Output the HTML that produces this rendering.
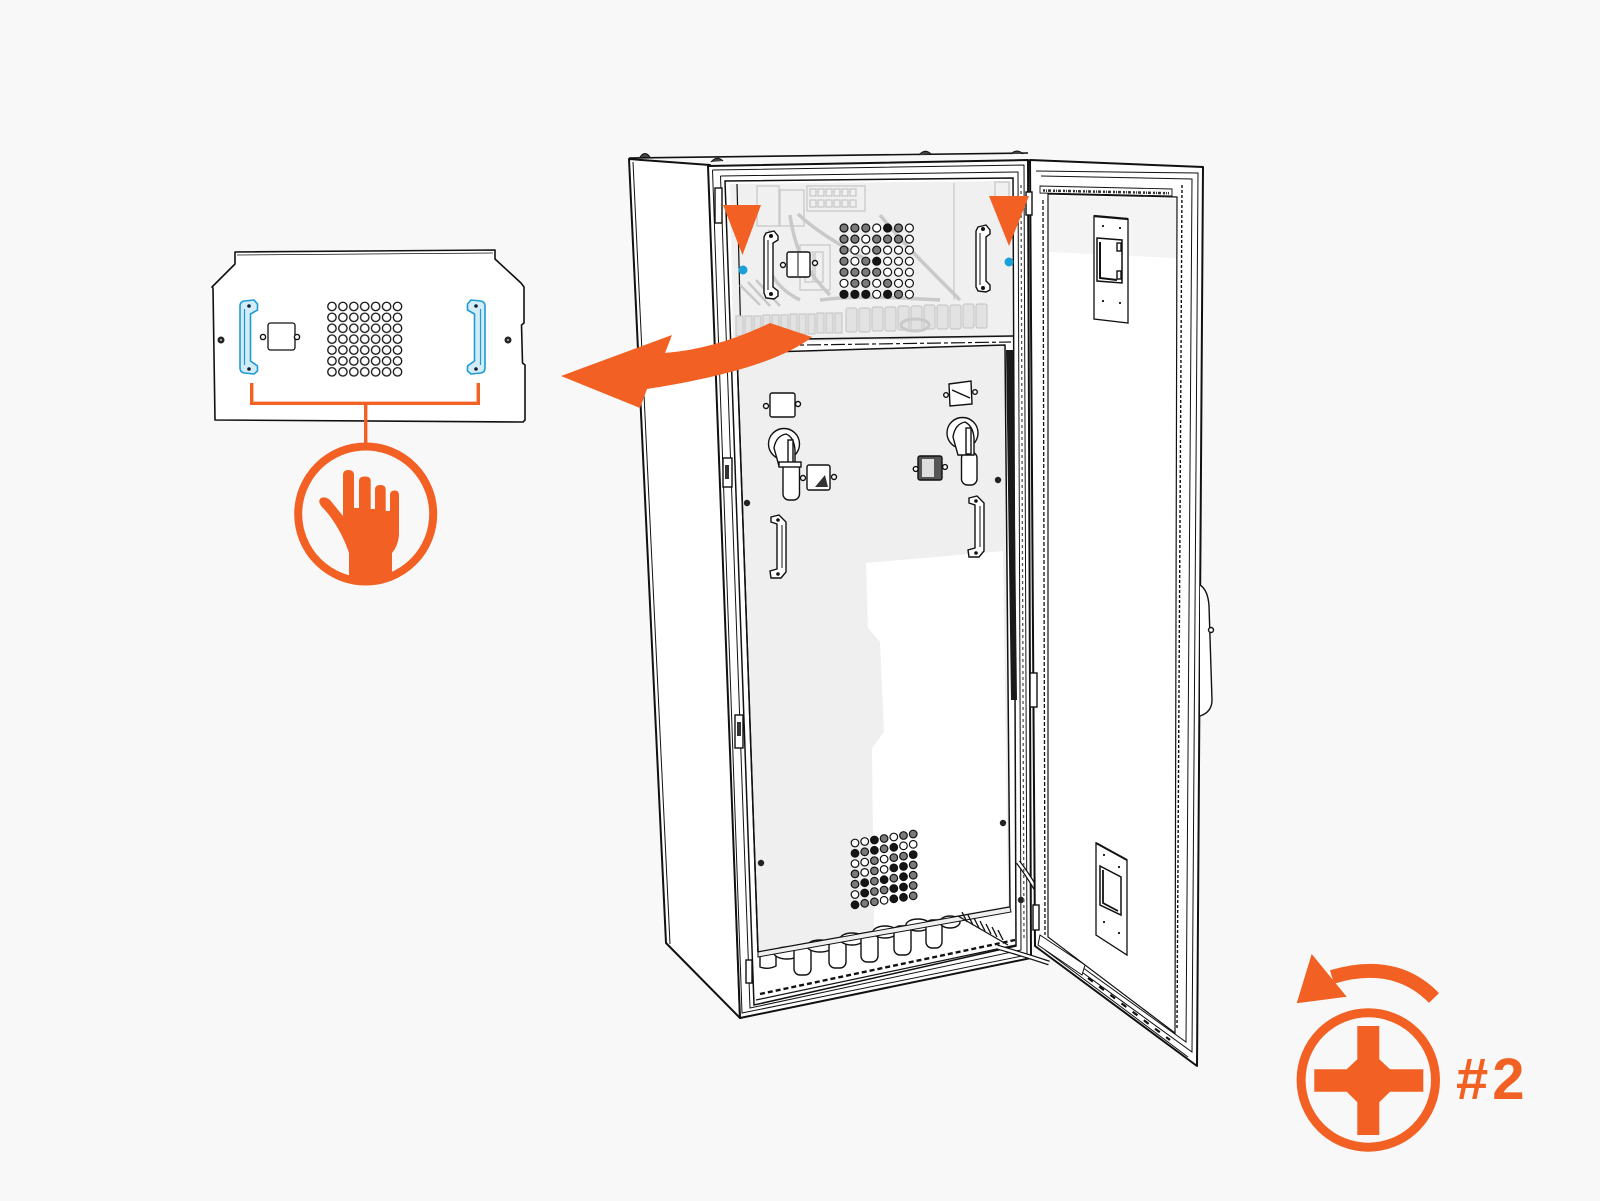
<!DOCTYPE html>
<html><head><meta charset="utf-8"><style>
html,body{margin:0;padding:0;background:#f8f8f8;}
svg{display:block}
.o{fill:#fff;stroke:#111;stroke-width:1.2}
.b{fill:#151515;stroke:#111;stroke-width:1.2}
.h{fill:#7a7a7a;stroke:#111;stroke-width:1.2}
.g{fill:none;stroke:#c9c9c9;stroke-width:1.3}
.gf{fill:#e2e2e2;stroke:#c9c9c9;stroke-width:1.2}
.k{fill:none;stroke:#111;stroke-width:1.4}
.kw{fill:#fff;stroke:#111;stroke-width:1.4}
</style></head><body>
<svg width="1600" height="1201" viewBox="0 0 1600 1201" xmlns="http://www.w3.org/2000/svg">
<rect width="1600" height="1201" fill="#f8f8f8"/>

<!-- ================= CABINET ================= -->
<polygon points="629,159 710,165 740,1018 666,943" fill="#fff" stroke="#111" stroke-width="2" stroke-linejoin="round"/>
<line x1="633" y1="162" x2="670" y2="944" stroke="#111" stroke-width="1"/>
<line x1="629" y1="158" x2="1028" y2="153" stroke="#111" stroke-width="1.6"/>
<path d="M640,157 Q645,150 650,157 M711,162 Q717,155 723,161 M919,155 Q925,148 931,154 M1011,154 Q1017,148 1023,154" fill="#444" stroke="#111" stroke-width="1"/>
<polygon points="708,166 1028,160 1031,958 740,1018" fill="#fff" stroke="#111" stroke-width="2" stroke-linejoin="round"/>
<polygon points="725,181 1013,178 1016,946 754,1005" fill="#fff" stroke="#111" stroke-width="1.5"/>
<polyline points="712.5,170 1024,165 1027,955 742,1013 712.5,170" fill="none" stroke="#111" stroke-width="1"/>
<polyline points="720.5,176 1018,172 1021,950 750,1008 720.5,176" fill="none" stroke="#111" stroke-width="1"/>

<!-- upper compartment -->
<polygon points="730,184 1011,181 1012,338 733,343" fill="#f0f0f0"/>
<line x1="737" y1="184" x2="741" y2="343" stroke="#111" stroke-width="1.2"/>
<g class="g">
 <rect x="807" y="186" width="58" height="25"/>
 <rect x="810" y="189" width="6" height="7"/><rect x="818" y="189" width="6" height="7"/><rect x="826" y="189" width="6" height="7"/><rect x="834" y="189" width="6" height="7"/><rect x="842" y="189" width="6" height="7"/><rect x="850" y="189" width="6" height="7"/>
 <rect x="810" y="200" width="6" height="7"/><rect x="818" y="200" width="6" height="7"/><rect x="826" y="200" width="6" height="7"/><rect x="834" y="200" width="6" height="7"/><rect x="842" y="200" width="6" height="7"/><rect x="850" y="200" width="6" height="7"/>
 <rect x="757" y="186" width="22" height="40"/><rect x="780" y="190" width="24" height="36"/>
 <line x1="954" y1="183" x2="954" y2="300"/>
 <path d="M790,215 C795,250 805,270 830,295 M798,214 C820,235 850,250 870,262 M770,230 C760,260 770,285 800,300 M880,215 C900,240 930,270 960,300 M820,300 C860,295 900,298 940,300" stroke-width="3.5"/>
 <rect x="800" y="245" width="30" height="45"/><rect x="805" y="252" width="8" height="30"/><rect x="815" y="252" width="8" height="30"/>
 <path d="M740,285 L760,305 M748,282 L770,306 M756,280 L780,306" stroke-width="2.5"/>
 <rect x="995" y="182" width="14" height="20"/>
</g>
<g class="gf">
 <rect x="736" y="316" width="7" height="20"/><rect x="745" y="316" width="7" height="20"/><rect x="754" y="316" width="7" height="20"/><rect x="763" y="315" width="7" height="20"/><rect x="772" y="315" width="7" height="20"/><rect x="781" y="315" width="7" height="20"/><rect x="790" y="314" width="7" height="20"/><rect x="799" y="314" width="7" height="20"/><rect x="808" y="314" width="7" height="20"/><rect x="817" y="313" width="7" height="20"/><rect x="826" y="313" width="7" height="20"/><rect x="835" y="313" width="7" height="20"/>
 <rect x="846" y="308" width="11" height="24" rx="2"/><rect x="859" y="308" width="11" height="24" rx="2"/><rect x="872" y="307" width="11" height="24" rx="2"/><rect x="885" y="307" width="11" height="24" rx="2"/><rect x="898" y="306" width="11" height="24" rx="2"/><rect x="911" y="306" width="11" height="24" rx="2"/><rect x="924" y="305" width="11" height="24" rx="2"/><rect x="937" y="305" width="11" height="24" rx="2"/><rect x="950" y="305" width="11" height="24" rx="2"/><rect x="963" y="304" width="11" height="24" rx="2"/><rect x="976" y="304" width="11" height="24" rx="2"/>
 <ellipse cx="915" cy="325" rx="14" ry="6" fill="none" stroke-width="3"/>
</g>
<line x1="733" y1="340" x2="1013" y2="336" stroke="#111" stroke-width="1.6"/>
<line x1="735" y1="346" x2="1011" y2="342" stroke="#111" stroke-width="1.2" stroke-dasharray="14 3 4 3"/>

<!-- upper cover elements -->
<path d="M766,233 L774,231 L778,236 L778,240 L773,243 L773,287 L778,291 L778,296 L774,299 L766,298 L764,293 L764,237 Z" class="kw"/>
<line x1="768" y1="240" x2="768" y2="290" stroke="#111" stroke-width="1"/>
<circle cx="771" cy="236" r="2" fill="#111"/><circle cx="771" cy="294" r="2" fill="#111"/>
<rect x="787" y="252" width="23" height="25" rx="2" class="kw"/>
<line x1="798" y1="253" x2="798" y2="276" stroke="#111"/>
<circle cx="783" cy="265" r="2.5" class="kw"/><circle cx="815" cy="263" r="2.5" class="kw"/>
<path d="M978,227 L986,225 L990,230 L990,234 L986,237 L986,281 L990,285 L990,290 L986,292 L978,291 L976,287 L976,231 Z" class="kw"/>
<line x1="980" y1="233" x2="980" y2="285" stroke="#111" stroke-width="1"/>
<circle cx="983" cy="229" r="2" fill="#111"/><circle cx="983" cy="288" r="2" fill="#111"/>
<g>
<circle cx="844" cy="228" r="4" class="h"/><circle cx="854.9" cy="228" r="4" class="h"/><circle cx="865.8" cy="228" r="4" class="h"/><circle cx="876.7" cy="228" r="4" class="o"/><circle cx="887.6" cy="228" r="4" class="b"/><circle cx="898.5" cy="228" r="4" class="h"/><circle cx="909.4" cy="228" r="4" class="o"/>
<circle cx="844" cy="239.1" r="4" class="h"/><circle cx="854.9" cy="239.1" r="4" class="h"/><circle cx="865.8" cy="239.1" r="4" class="o"/><circle cx="876.7" cy="239.1" r="4" class="h"/><circle cx="887.6" cy="239.1" r="4" class="h"/><circle cx="898.5" cy="239.1" r="4" class="h"/><circle cx="909.4" cy="239.1" r="4" class="o"/>
<circle cx="844" cy="250.1" r="4" class="h"/><circle cx="854.9" cy="250.1" r="4" class="o"/><circle cx="865.8" cy="250.1" r="4" class="o"/><circle cx="876.7" cy="250.1" r="4" class="h"/><circle cx="887.6" cy="250.1" r="4" class="o"/><circle cx="898.5" cy="250.1" r="4" class="o"/><circle cx="909.4" cy="250.1" r="4" class="o"/>
<circle cx="844" cy="261.2" r="4" class="h"/><circle cx="854.9" cy="261.2" r="4" class="o"/><circle cx="865.8" cy="261.2" r="4" class="h"/><circle cx="876.7" cy="261.2" r="4" class="b"/><circle cx="887.6" cy="261.2" r="4" class="o"/><circle cx="898.5" cy="261.2" r="4" class="o"/><circle cx="909.4" cy="261.2" r="4" class="o"/>
<circle cx="844" cy="272.2" r="4" class="h"/><circle cx="854.9" cy="272.2" r="4" class="h"/><circle cx="865.8" cy="272.2" r="4" class="h"/><circle cx="876.7" cy="272.2" r="4" class="h"/><circle cx="887.6" cy="272.2" r="4" class="o"/><circle cx="898.5" cy="272.2" r="4" class="o"/><circle cx="909.4" cy="272.2" r="4" class="o"/>
<circle cx="844" cy="283.3" r="4" class="o"/><circle cx="854.9" cy="283.3" r="4" class="h"/><circle cx="865.8" cy="283.3" r="4" class="h"/><circle cx="876.7" cy="283.3" r="4" class="o"/><circle cx="887.6" cy="283.3" r="4" class="h"/><circle cx="898.5" cy="283.3" r="4" class="o"/><circle cx="909.4" cy="283.3" r="4" class="o"/>
<circle cx="844" cy="294.3" r="4" class="b"/><circle cx="854.9" cy="294.3" r="4" class="b"/><circle cx="865.8" cy="294.3" r="4" class="b"/><circle cx="876.7" cy="294.3" r="4" class="o"/><circle cx="887.6" cy="294.3" r="4" class="b"/><circle cx="898.5" cy="294.3" r="4" class="h"/><circle cx="909.4" cy="294.3" r="4" class="o"/>
</g>

<!-- lower cover panel -->
<polygon points="737,353 1005,345 1010,907 758,952" fill="#efefef" stroke="#111" stroke-width="1.5" stroke-linejoin="round"/>
<polygon points="866,563 1003,551 1008,906 874,929 872,748 884,732 880,642 868,628" fill="#fff"/>
<line x1="737" y1="353" x2="758" y2="952" stroke="#111" stroke-width="1.5"/>
<polygon points="1006,350 1013,350 1017,700 1011,700" fill="#1a1a1a"/>
<rect x="715" y="188" width="7" height="35" class="kw"/>
<rect x="723" y="458" width="9" height="29" class="kw"/><rect x="725" y="465" width="4" height="14" fill="#333"/>
<rect x="735" y="715" width="8" height="33" class="kw"/><rect x="737" y="722" width="4" height="14" fill="#333"/>
<rect x="746" y="960" width="6" height="23" class="kw"/>
<circle cx="747" cy="503" r="3.2" fill="#222"/><circle cx="998" cy="480" r="3.2" fill="#222"/><circle cx="1003" cy="823" r="3.2" fill="#222"/><circle cx="761" cy="863" r="3.2" fill="#222"/><circle cx="1021" cy="900" r="3.2" fill="#222"/>

<!-- left switch group -->
<rect x="770" y="393" width="25" height="24" rx="2" class="kw"/>
<circle cx="766" cy="406" r="2.5" class="kw"/><circle cx="798" cy="404" r="2.5" class="kw"/>
<rect x="783" y="462" width="16.5" height="38" rx="6" class="kw"/>
<circle cx="784" cy="444" r="15.5" class="kw"/>
<path d="M774,448 Q776,436 786,434 Q794,437 795,450 L795,466 L779,466 Z" class="kw"/>
<rect x="788" y="440" width="5" height="26" class="kw"/>
<rect x="779" y="462" width="22" height="5" class="kw"/>
<rect x="807" y="465" width="23" height="25" rx="2" class="kw"/>
<path d="M815,487 L825,475 L828,487 Z" fill="#333"/>
<circle cx="803" cy="478" r="2.5" class="kw"/><circle cx="834" cy="477" r="2.5" class="kw"/>
<path d="M771,517 L779,515 L786,522 L786,572 L781,578 L771,578 L770,571 L777,569 L777,524 L771,522 Z" class="kw"/>
<line x1="782" y1="525" x2="782" y2="568" stroke="#111" stroke-width="1"/>
<circle cx="778" cy="520" r="1.8" fill="#111"/><circle cx="778" cy="574" r="1.8" fill="#111"/>

<!-- right switch group -->
<path d="M949,384 L971,381 L972,404 L950,406 Z" class="kw"/>
<line x1="952" y1="390" x2="970" y2="398" stroke="#111" stroke-width="1.5"/>
<circle cx="946" cy="395" r="2.3" class="kw"/><circle cx="975" cy="392" r="2.3" class="kw"/>
<rect x="961.5" y="452" width="15.5" height="33" rx="6" class="kw"/>
<circle cx="962.5" cy="433" r="15.5" class="kw"/>
<path d="M953,437 Q955,424 965,422 Q973,426 974,438 L974,455 L958,455 Z" class="kw"/>
<rect x="966" y="428" width="5" height="26" class="kw"/>
<rect x="918" y="456" width="24" height="24" rx="2" fill="#555" stroke="#111" stroke-width="1.4"/>
<rect x="922" y="459" width="12" height="18" fill="#ddd"/>
<circle cx="915.7" cy="469" r="2.4" class="kw"/><circle cx="945" cy="467" r="2.4" class="kw"/>
<path d="M969,498 L977,496 L984,503 L984,551 L979,557 L969,557 L968,550 L975,548 L975,505 L969,503 Z" class="kw"/>
<line x1="980" y1="506" x2="980" y2="547" stroke="#111" stroke-width="1"/>
<circle cx="976" cy="501" r="1.8" fill="#111"/><circle cx="976" cy="553" r="1.8" fill="#111"/>

<!-- lower grid -->
<g>
<circle cx="855" cy="843" r="3.8" class="o"/><circle cx="864.7" cy="841.5" r="3.8" class="o"/><circle cx="874.4" cy="840" r="3.8" class="b"/><circle cx="884.1" cy="838.5" r="3.8" class="h"/><circle cx="893.8" cy="837" r="3.8" class="o"/><circle cx="903.5" cy="835.5" r="3.8" class="h"/><circle cx="913.2" cy="834" r="3.8" class="h"/>
<circle cx="855" cy="853.3" r="3.8" class="b"/><circle cx="864.7" cy="851.8" r="3.8" class="h"/><circle cx="874.4" cy="850.3" r="3.8" class="b"/><circle cx="884.1" cy="848.8" r="3.8" class="h"/><circle cx="893.8" cy="847.3" r="3.8" class="b"/><circle cx="903.5" cy="845.8" r="3.8" class="o"/><circle cx="913.2" cy="844.3" r="3.8" class="o"/>
<circle cx="855" cy="863.6" r="3.8" class="o"/><circle cx="864.7" cy="862.1" r="3.8" class="o"/><circle cx="874.4" cy="860.6" r="3.8" class="h"/><circle cx="884.1" cy="859.1" r="3.8" class="o"/><circle cx="893.8" cy="857.6" r="3.8" class="h"/><circle cx="903.5" cy="856.1" r="3.8" class="h"/><circle cx="913.2" cy="854.6" r="3.8" class="b"/>
<circle cx="855" cy="873.9" r="3.8" class="h"/><circle cx="864.7" cy="872.4" r="3.8" class="o"/><circle cx="874.4" cy="870.9" r="3.8" class="h"/><circle cx="884.1" cy="869.4" r="3.8" class="o"/><circle cx="893.8" cy="867.9" r="3.8" class="b"/><circle cx="903.5" cy="866.4" r="3.8" class="b"/><circle cx="913.2" cy="864.9" r="3.8" class="h"/>
<circle cx="855" cy="884.2" r="3.8" class="h"/><circle cx="864.7" cy="882.7" r="3.8" class="b"/><circle cx="874.4" cy="881.2" r="3.8" class="h"/><circle cx="884.1" cy="879.7" r="3.8" class="b"/><circle cx="893.8" cy="878.2" r="3.8" class="h"/><circle cx="903.5" cy="876.7" r="3.8" class="b"/><circle cx="913.2" cy="875.2" r="3.8" class="h"/>
<circle cx="855" cy="894.5" r="3.8" class="o"/><circle cx="864.7" cy="893" r="3.8" class="b"/><circle cx="874.4" cy="891.5" r="3.8" class="h"/><circle cx="884.1" cy="890" r="3.8" class="h"/><circle cx="893.8" cy="888.5" r="3.8" class="b"/><circle cx="903.5" cy="887" r="3.8" class="b"/><circle cx="913.2" cy="885.5" r="3.8" class="h"/>
<circle cx="855" cy="904.8" r="3.8" class="b"/><circle cx="864.7" cy="903.3" r="3.8" class="h"/><circle cx="874.4" cy="901.8" r="3.8" class="h"/><circle cx="884.1" cy="900.3" r="3.8" class="o"/><circle cx="893.8" cy="898.8" r="3.8" class="b"/><circle cx="903.5" cy="897.3" r="3.8" class="b"/><circle cx="913.2" cy="895.8" r="3.8" class="h"/>
</g>

<!-- fuses -->
<g class="kw" stroke-width="1.2">
 <path d="M760,954 L776,951 L776,966 Q768,970 760,967 Z"/>
 <ellipse cx="787" cy="953" rx="13" ry="6"/>
 <rect x="794" y="946" width="17" height="29" rx="6"/>
 <ellipse cx="820" cy="946" rx="13" ry="6"/>
 <rect x="829" y="940" width="17" height="28" rx="6"/>
 <ellipse cx="852" cy="939" rx="12" ry="6"/>
 <rect x="861" y="933" width="17" height="29" rx="6"/>
 <ellipse cx="885" cy="932" rx="12" ry="6"/>
 <rect x="894" y="926" width="17" height="29" rx="6"/>
 <ellipse cx="918" cy="925" rx="12" ry="6"/>
 <rect x="926" y="920" width="16" height="28" rx="6"/>
 <ellipse cx="950" cy="922" rx="10" ry="6"/>
</g>
<polygon points="758,952 1010,907 1011,912 758,957" fill="#efefef" stroke="#111" stroke-width="1"/>
<g stroke="#111" stroke-width="1.3">
 <line x1="958" y1="916" x2="1008" y2="945"/>
 <line x1="962" y1="912" x2="967" y2="922"/><line x1="968" y1="915" x2="973" y2="925"/><line x1="974" y1="918" x2="979" y2="928"/><line x1="980" y1="921" x2="985" y2="931"/><line x1="986" y1="924" x2="991" y2="934"/><line x1="992" y1="927" x2="997" y2="937"/><line x1="998" y1="930" x2="1003" y2="940"/>
</g>
<line x1="760" y1="994" x2="1015" y2="940" stroke="#111" stroke-width="2.4" stroke-dasharray="5 3"/>
<line x1="756" y1="1000" x2="1016" y2="945" stroke="#111" stroke-width="1.2"/>
<path d="M1018,862 Q1032,880 1049,912" fill="none" stroke="#111" stroke-width="5"/>
<path d="M1018,862 Q1032,880 1049,912" fill="none" stroke="#fff" stroke-width="2.5"/>
<path d="M997,947 Q1025,955 1049,963" fill="none" stroke="#111" stroke-width="5"/>
<path d="M997,947 Q1025,955 1049,963" fill="none" stroke="#fff" stroke-width="2.5"/>

<!-- ================= DOOR ================= -->
<polygon points="1030,160 1203,167 1197,1066 1035,946" fill="#fff" stroke="#111" stroke-width="2" stroke-linejoin="round"/>
<polyline points="1036,171 1198,173 1192,1052 1039,941" fill="none" stroke="#111" stroke-width="1"/>
<polyline points="1041,176 1192,179 1186,1042 1043,939" fill="none" stroke="#111" stroke-width="1"/>
<line x1="1182" y1="185" x2="1177" y2="1030" stroke="#111" stroke-width="1.4" stroke-dasharray="3 2"/>
<polygon points="1048,194 1177,197 1175,1033 1048,937" fill="#fff" stroke="#111" stroke-width="1.2"/>
<line x1="1043" y1="200" x2="1045" y2="935" stroke="#111" stroke-width="1.3" stroke-dasharray="4 2"/>
<line x1="1021" y1="185" x2="1024" y2="940" stroke="#555" stroke-width="1.3" stroke-dasharray="3 3"/>
<polygon points="1049,196 1176,199 1176,258 1049,252" fill="#f4f4f4"/>
<polygon points="1040,186 1172,189 1172,196 1040,193" fill="#fff" stroke="#111" stroke-width="0.9"/>
<line x1="1043" y1="190.5" x2="1169" y2="193.2" stroke="#333" stroke-width="2.5" stroke-dasharray="2 1 1 1 3 2"/>
<g stroke="#111" stroke-width="1" fill="none">
 <line x1="1045" y1="950" x2="1188" y2="1057"/>
 <path d="M1040,935 L1085,965 L1082,975 L1038,945 Z" fill="#fff"/>
 <line x1="1088" y1="978" x2="1170" y2="1040" stroke-width="2.2" stroke-dasharray="6 8"/>
</g>
<rect x="1026" y="192" width="6" height="23" class="kw"/>
<rect x="1030" y="673" width="7" height="34" class="kw"/>
<rect x="1033" y="905" width="6" height="25" class="kw"/>
<path d="M1200,585 Q1208,590 1209,606 L1212,700 Q1212,712 1200,716" fill="#fff" stroke="#111" stroke-width="1.4"/>
<circle cx="1211" cy="630" r="2.5" class="kw"/>
<polygon points="1094,216 1128,219 1128,323 1094,319" fill="#fff" stroke="#111" stroke-width="1.3"/>
<line x1="1094" y1="216" x2="1128" y2="219" stroke="#111" stroke-width="2.2"/>
<polygon points="1097,238 1122,240 1122,283 1097,281" fill="#fff" stroke="#111" stroke-width="1.5"/>
<path d="M1100,242 L1100,278 L1117,280" fill="none" stroke="#111" stroke-width="2"/>
<rect x="1117" y="243" width="4" height="8" class="k"/><rect x="1117" y="271" width="4" height="8" class="k"/>
<circle cx="1103" cy="226" r="1.1" fill="#111"/><circle cx="1120" cy="228" r="1.1" fill="#111"/><circle cx="1103" cy="301" r="1.1" fill="#111"/><circle cx="1120" cy="303" r="1.1" fill="#111"/>
<polygon points="1096,843 1127,860 1127,955 1096,935" fill="#fff" stroke="#111" stroke-width="1.3"/>
<line x1="1096" y1="843" x2="1127" y2="860" stroke="#111" stroke-width="2"/>
<polygon points="1100,866 1121,877 1121,915 1100,905" fill="#fff" stroke="#111" stroke-width="1.5"/>
<path d="M1103,870 L1103,903 L1118,911" fill="none" stroke="#111" stroke-width="1.8"/>
<circle cx="1104" cy="855" r="1.1" fill="#111"/><circle cx="1119" cy="867" r="1.1" fill="#111"/><circle cx="1104" cy="922" r="1.1" fill="#111"/><circle cx="1119" cy="933" r="1.1" fill="#111"/>

<!-- ================= ORANGE MARKERS ================= -->
<polygon points="723,205 761,205 742.5,255" fill="#F26024"/>
<polygon points="989,196 1029,196 1009,246" fill="#F26024"/>
<circle cx="743" cy="270" r="4.5" fill="#1BA0D9"/>
<circle cx="1009" cy="262" r="4.5" fill="#1BA0D9"/>
<path d="M561,376 L672,335 L665,353 Q716,349 770,323 L812,337 Q770,370 647,389 L640,408 Z" fill="#F26024"/>

<!-- ================= DETACHED PANEL ================= -->
<path d="M235,252 L495,250 L495,259 L521,283 L524,287 L524,323 L521.5,325 L522.5,363 L525,365 L525,420 L523,422 L215,420 L213,288 L212,287 L235,264 Z" fill="#fff" stroke="#111" stroke-width="1.6" stroke-linejoin="round"/>
<line x1="237" y1="255" x2="493" y2="253" stroke="#111" stroke-width="0.8"/>
<defs>
<pattern id="hp" x="326.5" y="301" width="10.93" height="10.9" patternUnits="userSpaceOnUse">
<circle cx="5.45" cy="5.45" r="4.2" fill="#fff" stroke="#111" stroke-width="1.3"/>
</pattern>
</defs>
<rect x="326.5" y="301" width="76.5" height="76.3" fill="url(#hp)"/>
<rect x="268" y="323" width="27" height="27" rx="2.5" fill="#fff" stroke="#111" stroke-width="1.3"/>
<circle cx="263" cy="337" r="2.6" class="kw" stroke-width="1.1"/><circle cx="297" cy="337" r="2.6" class="kw" stroke-width="1.1"/>
<circle cx="221" cy="340" r="3.5" fill="#222"/><circle cx="221" cy="340" r="1.2" fill="#999"/>
<circle cx="508" cy="340" r="3.5" fill="#222"/><circle cx="508" cy="340" r="1.2" fill="#999"/>
<path d="M244,301 L254,300 L257.5,304 L257.5,310 L250.5,314 L250.5,361 L257.5,366 L257.5,371 L254,374 L244,373 Q240,372 240,368 L240,306 Q240,302 244,301 Z" fill="#d2ecf8" stroke="#1E9AD6" stroke-width="1.6" stroke-linejoin="round"/>
<line x1="244.5" y1="309" x2="244.5" y2="365" stroke="#1E9AD6" stroke-width="1.2"/>
<circle cx="249" cy="306" r="1.8" fill="#123"/><circle cx="249" cy="369" r="1.8" fill="#123"/>
<path d="M481,301 L471,300 L467.5,304 L467.5,310 L474.5,314 L474.5,361 L467.5,366 L467.5,371 L471,374 L481,373 Q485,372 485,368 L485,306 Q485,302 481,301 Z" fill="#d2ecf8" stroke="#1E9AD6" stroke-width="1.6" stroke-linejoin="round"/>
<line x1="480.5" y1="309" x2="480.5" y2="365" stroke="#1E9AD6" stroke-width="1.2"/>
<circle cx="476" cy="306" r="1.8" fill="#123"/><circle cx="476" cy="369" r="1.8" fill="#123"/>

<polyline points="251.7,383 251.7,403.3 478.3,403.3 478.3,383" fill="none" stroke="#F26024" stroke-width="3.4"/>
<line x1="365.7" y1="403" x2="365.7" y2="448" stroke="#F26024" stroke-width="3.4"/>
<path d="M349,580 L349,553 C345,540 335,520 322,507 Q317,501 321,498 Q325,496 330,500 L343,516 L343,475 Q343,470 348.5,470 Q354,470 354,475 L354,508 L359,508 L359,481 Q359,476.5 365,476.5 Q370.7,476.5 370.7,481 L370.7,509 L375,509 L375,489.5 Q375,485 380.3,485 Q385.7,485 385.7,489.5 L385.7,511 L390,511 L390,495 Q390,490.5 394.5,490.5 Q399,490.5 399,495 L399,535 Q398,546 392,553 L392,580 Z" fill="#F26024"/>
<circle cx="365.7" cy="514" r="67.5" fill="none" stroke="#F26024" stroke-width="8"/>

<!-- ================= SCREWDRIVER ICON ================= -->
<path d="M1434,998 Q1395,958 1332,977" fill="none" stroke="#F26024" stroke-width="14"/>
<polygon points="1296.7,1003.3 1311.7,954 1346.7,996.7" fill="#F26024"/>
<circle cx="1368.3" cy="1080" r="67.2" fill="none" stroke="#F26024" stroke-width="9"/>
<polygon points="1357.3,1026 1379.3,1026 1379.3,1059.3 1390,1069.3 1423.3,1069.3 1423.3,1091.7 1390,1091.7 1379.3,1102.3 1379.3,1135 1357.3,1135 1357.3,1102.3 1346.7,1091.7 1314.3,1091.7 1314.3,1069.3 1346.7,1069.3 1357.3,1059.3" fill="#F26024"/>
<text x="1456" y="1099" font-family="Liberation Sans, sans-serif" font-weight="bold" font-size="58" fill="#F26024" letter-spacing="4">#2</text>
</svg>
</body></html>
